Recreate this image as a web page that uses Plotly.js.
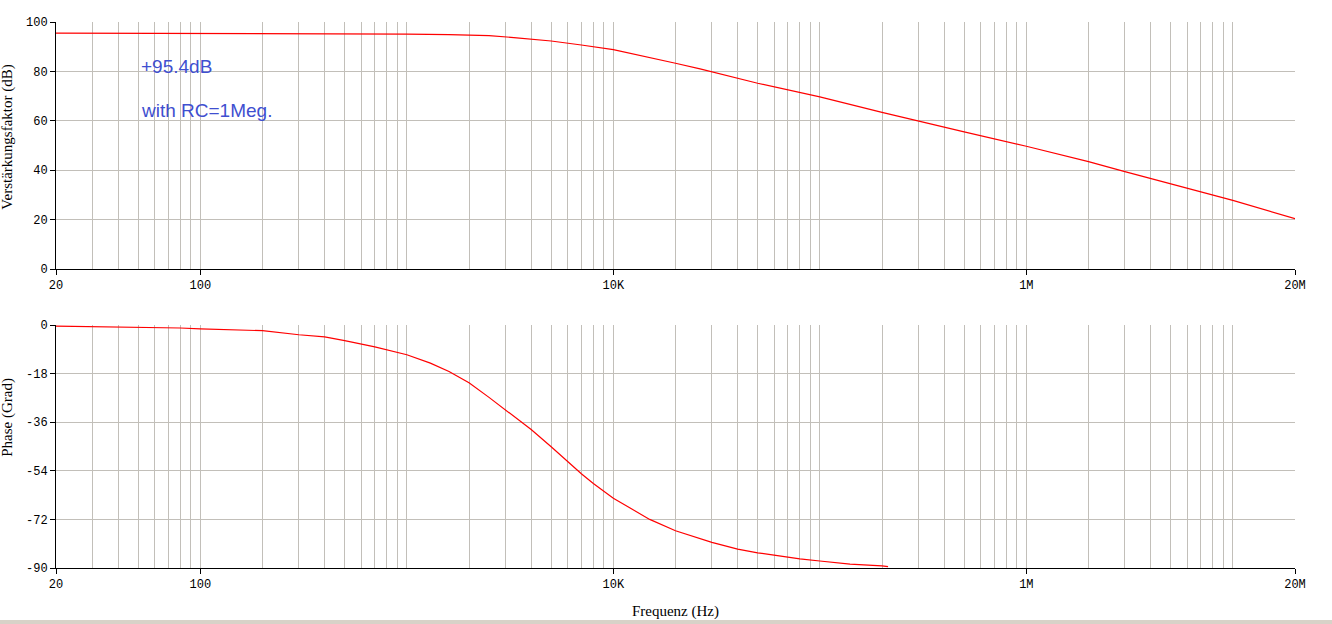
<!DOCTYPE html>
<html>
<head>
<meta charset="utf-8">
<script src="https://cdn.plot.ly/plotly-3.0.1.min.js"></script>
<style>
  html, body { margin: 0; padding: 0; background: #ffffff; }
  #chart { width: 1332px; height: 624px; }
</style>
</head>
<body>
<div id="chart"></div>
<script>
// ---- data ----
const freqGain = [20, 200, 600, 1000, 1600, 2500, 3300, 5000, 7000, 10000, 20000, 26300, 50000, 100000, 200000, 300000, 500000, 1000000, 2000000, 3000000, 5000000, 10000000, 20000000];
const gainDb   = [95.5, 95.4, 95.3, 95.1, 94.9, 94.5, 93.7, 92.3, 90.7, 88.8, 83.3, 81.0, 75.2, 69.7, 63.4, 59.8, 55.5, 49.7, 43.5, 39.4, 34.6, 27.8, 20.4];

const freqPhase = [20, 51, 80, 100, 200, 300, 400, 500, 700, 1000, 1300, 1600, 2000, 2500, 3000, 4000, 5000, 6000, 7000, 8000, 9000, 10000, 12000, 15000, 20000, 30000, 40000, 50000, 60000, 70000, 80000, 100000, 140000, 200000, 214000];
const phaseDeg  = [-0.4, -0.7, -1.1, -1.4, -2.1, -3.6, -4.4, -5.8, -8.1, -11.0, -14.1, -17.2, -21.4, -26.8, -31.4, -38.7, -45.1, -50.6, -55.1, -58.7, -61.7, -64.2, -67.7, -72.0, -76.2, -80.5, -83.0, -84.4, -85.2, -86.0, -86.6, -87.4, -88.6, -89.2, -89.5];

const freqTickVals = [20, 100, 10000, 1000000, 20000000];
const freqTickText = ['20', '100', '10K', '1M', '20M'];
const gainTickVals = [0, 20, 40, 60, 80, 100];
const phaseTickVals = [-90, -72, -54, -36, -18, 0];
const phaseTickText = ['-90', '-72', '-54', '-36', '-18', '0'];

const gainLabel1 = '+95.4dB';
const gainLabel2 = 'with RC=1Meg.';

// grid lines at 1..9 x each decade within the range
const freqGrid = [];
for (let k = 1; k <= 7; k++) {
  for (let n = 1; n <= 9; n++) {
    const v = n * Math.pow(10, k);
    if (v >= 20 && v <= 20000000) freqGrid.push(v);
  }
}

const GRID = '#c2bfb9';
const tickFont = { family: 'Liberation Mono, DejaVu Sans Mono, monospace', size: 12, color: '#000000' };
const titleFont = { family: 'Liberation Serif, Times New Roman, serif', size: 15, color: '#000000' };

function xAxis(anchor) {
  return {
    type: 'log', anchor: anchor,
    range: [Math.log10(20), Math.log10(20000000)],
    tickmode: 'array', tickvals: freqTickVals, ticktext: freqTickText,
    ticks: 'outside', ticklen: 5, tickcolor: '#000', tickwidth: 1,
    tickfont: tickFont,
    showline: true, linecolor: '#000', linewidth: 1, mirror: false,
    showgrid: true, gridcolor: GRID, gridwidth: 1, zeroline: false,
    minor: { tickmode: 'array', tickvals: freqGrid, showgrid: true, gridcolor: GRID, gridwidth: 1, ticks: '' },
    fixedrange: true
  };
}

const traces = [
  { x: freqGain, y: gainDb, xaxis: 'x', yaxis: 'y', type: 'scatter', mode: 'lines',
    line: { color: '#ff0000', width: 1.2 }, hoverinfo: 'skip', showlegend: false },
  { x: freqPhase, y: phaseDeg, xaxis: 'x2', yaxis: 'y2', type: 'scatter', mode: 'lines',
    line: { color: '#ff0000', width: 1.2 }, hoverinfo: 'skip', showlegend: false }
];

const xa1 = xAxis('y');
const xa2 = xAxis('y2');
xa2.title = { text: 'Frequenz (Hz)', font: titleFont, standoff: 14 };

const layout = {
  width: 1332, height: 624,
  margin: { l: 56, r: 37, t: 22, b: 56 },
  paper_bgcolor: '#ffffff', plot_bgcolor: '#ffffff',
  showlegend: false,
  xaxis: xa1,
  xaxis2: xa2,
  yaxis: {
    domain: [0.5476, 1], range: [0, 100], anchor: 'x',
    tickmode: 'array', tickvals: gainTickVals,
    ticks: 'outside', ticklen: 5, tickcolor: '#000', tickfont: tickFont,
    showline: true, linecolor: '#000', linewidth: 1,
    showgrid: true, gridcolor: GRID, gridwidth: 1, zeroline: false, fixedrange: true
  },
  yaxis2: {
    domain: [0, 0.445], range: [-90, 0], anchor: 'x2',
    tickmode: 'array', tickvals: phaseTickVals, ticktext: phaseTickText,
    ticks: 'outside', ticklen: 5, tickcolor: '#000', tickfont: tickFont,
    showline: true, linecolor: '#000', linewidth: 1,
    showgrid: true, gridcolor: GRID, gridwidth: 1, zeroline: false, fixedrange: true
  },
  annotations: [
    { text: gainLabel1, xref: 'paper', yref: 'y', x: 0.0670, y: 82, xanchor: 'left', yanchor: 'middle',
      showarrow: false, font: { family: 'Liberation Sans, Arial, sans-serif', size: 19, color: '#3f4fd0' } },
    { text: gainLabel2, xref: 'paper', yref: 'y', x: 0.0670, y: 64.2, xanchor: 'left', yanchor: 'middle',
      showarrow: false, font: { family: 'Liberation Sans, Arial, sans-serif', size: 19, color: '#3f4fd0' } },
    { text: 'Verstärkungsfaktor (dB)', xref: 'paper', yref: 'paper', x: -0.0392, y: 0.789, xanchor: 'center', yanchor: 'middle',
      textangle: -90, showarrow: false, font: titleFont },
    { text: 'Phase (Grad)', xref: 'paper', yref: 'paper', x: -0.0392, y: 0.276, xanchor: 'center', yanchor: 'middle',
      textangle: -90, showarrow: false, font: titleFont }
  ],
  shapes: [
    { type: 'rect', xref: 'paper', yref: 'paper', x0: -0.05, x1: 1.05, y0: -0.1026, y1: -0.0952,
      fillcolor: '#d8d2c8', line: { width: 0 }, layer: 'above' }
  ]
};

Plotly.newPlot('chart', traces, layout, { displayModeBar: false, staticPlot: true });
</script>
</body>
</html>
